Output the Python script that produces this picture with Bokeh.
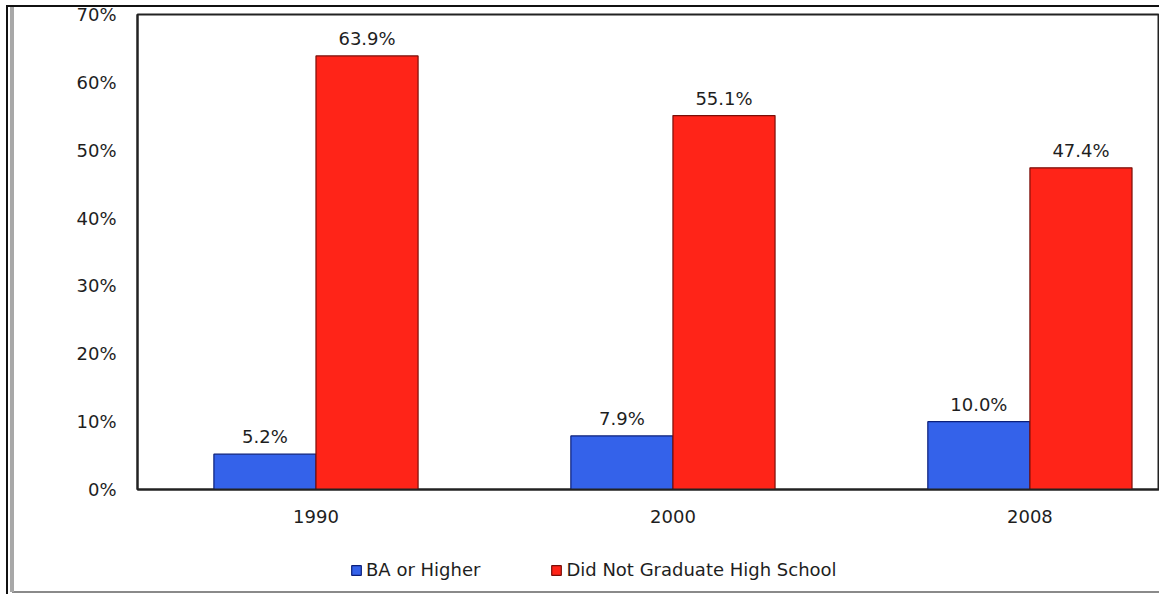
from bokeh.plotting import figure
from bokeh.layouts import column
from bokeh.models import (ColumnDataSource, Range1d, FixedTicker, Legend, LegendItem, LabelSet)
from bokeh.core.properties import value
from bokeh.embed import file_html
from bokeh.resources import INLINE

# Share of adults by educational attainment
years = ["1990", "2000", "2008"]
ba_or_higher = [5.2, 7.9, 10.0]
no_high_school = [63.9, 55.1, 47.4]
y_ticks = [0, 10, 20, 30, 40, 50, 60, 70]
series_names = ["BA or Higher", "Did Not Graduate High School"]

FONT = "DejaVu Sans"
BLUE = "#3462ea"
RED = "#ff2418"
BLUE_EDGE = "#0b1f7a"
RED_EDGE = "#7a0e08"
INK = "#1e1e1e"
FS = "18px"

idx = list(range(len(years)))
bw = 0.286
src_ba = ColumnDataSource(dict(x=[i - bw / 2 for i in idx], top=ba_or_higher,
                               lab=[f"{v:.1f}%" for v in ba_or_higher]))
src_hs = ColumnDataSource(dict(x=[i + bw / 2 for i in idx], top=no_high_school,
                               lab=[f"{v:.1f}%" for v in no_high_school]))

p = figure(width=1159, height=540, output_backend="svg", toolbar_location=None,
           x_range=Range1d(-0.5, 2.363), y_range=Range1d(0, 70),
           min_border_left=137, min_border_right=0, min_border_top=14, min_border_bottom=51)

bar_style = [dict(fill_color=BLUE, line_color=BLUE_EDGE, line_width=1.2),
             dict(fill_color=RED, line_color=RED_EDGE, line_width=1.2)]
p.vbar(x="x", top="top", width=bw, source=src_ba, **bar_style[0])
p.vbar(x="x", top="top", width=bw, source=src_hs, **bar_style[1])

for s in (src_ba, src_hs):
    p.add_layout(LabelSet(x="x", y="top", text="lab", source=s, y_offset=7,
                          text_align="center", text_baseline="bottom",
                          text_font=value(FONT), text_font_size=FS, text_color=INK))

p.grid.visible = False
p.outline_line_color = "#222222"
p.outline_line_width = 2

p.xaxis.ticker = FixedTicker(ticks=idx)
p.xaxis.major_label_overrides = {i: y for i, y in enumerate(years)}
p.yaxis.ticker = FixedTicker(ticks=y_ticks)
p.yaxis.major_label_overrides = {t: f"{t}%" for t in y_ticks}

for ax in (p.xaxis, p.yaxis):
    ax.major_tick_line_color = None
    ax.minor_tick_line_color = None
    ax.axis_line_color = "#222222"
    ax.axis_line_width = 2
    ax.major_label_text_font = FONT
    ax.major_label_text_font_size = FS
    ax.major_label_text_color = INK
p.yaxis.major_label_standoff = 15
p.xaxis.major_label_standoff = 14
p.border_fill_color = None

# Legend strip under the chart; its key glyphs come from hidden copies of the bars
leg = figure(width=1159, height=54, output_backend="svg", toolbar_location=None,
             x_range=Range1d(100, 101), y_range=Range1d(100, 101),
             min_border=0, x_axis_location=None, y_axis_location=None)
leg.grid.visible = False
leg.outline_line_color = None
leg.border_fill_color = None
leg.background_fill_color = None
keys = []
for s, st in zip((src_ba, src_hs), bar_style):
    r = leg.vbar(x="x", top="top", width=bw, source=s, **st)
    r.visible = False
    keys.append(r)
legend = Legend(items=[LegendItem(label=n, renderers=[r], index=0)
                       for n, r in zip(series_names, keys)],
                orientation="horizontal", location=(213, 14), margin=0, padding=0,
                label_text_font=FONT, label_text_font_size=FS, label_text_color=INK,
                glyph_width=12, glyph_height=12, spacing=70, label_standoff=4,
                label_height=18, border_line_color=None, background_fill_alpha=0)
leg.add_layout(legend, "center")

# Window frame lines around the chart
frame_css = {
    "background-image": ("linear-gradient(#111,#111), linear-gradient(#111,#111), "
                         "linear-gradient(#a8a8a8,#a8a8a8), linear-gradient(#8a8a8a,#8a8a8a)"),
    "background-size": "1153px 2px, 2px 589px, 4px 585px, 1147px 2px",
    "background-position": "6px 5px, 6px 5px, 10px 7px, 12px 591px",
    "background-repeat": "no-repeat",
    "background-color": "white",
}

layout = column(p, leg, spacing=0, styles=frame_css)
open("out.html", "w").write(file_html(layout, INLINE))
